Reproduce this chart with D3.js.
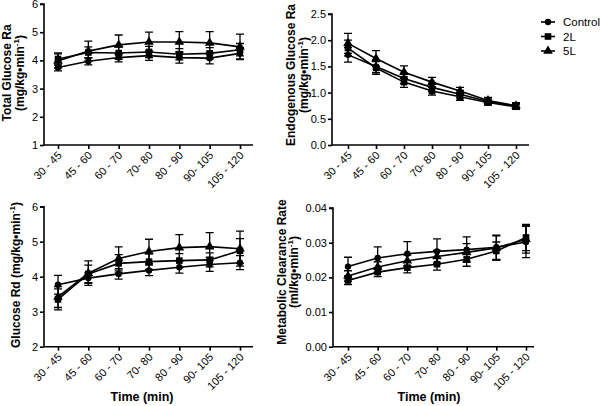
<!DOCTYPE html>
<html><head><meta charset="utf-8">
<script src="https://cdn.jsdelivr.net/npm/d3@7"></script>
<style>body{margin:0;background:#fff}svg{display:block}text{font-family:"Liberation Sans",Arial,sans-serif}</style>
</head><body><svg id="c" width="600" height="406"></svg>
<script>
const categories = ["30 - 45","45 - 60","60 - 70","70- 80","80 - 90","90- 105","105 - 120"];
const seriesNames = ["Control","2L","5L"];
// Total Glucose Ra
const raControl = [3.75,3.97,4.10,4.17,4.10,4.08,4.25];
const ra2L      = [4.05,4.28,4.26,4.30,4.22,4.25,4.38];
const ra5L      = [3.98,4.33,4.55,4.65,4.65,4.62,4.48];
const raErrControl = [0.12,0.13,0.15,0.17,0.2,0.2,0.2];
const raErr2L      = [0.22,0.2,0.22,0.2,0.2,0.2,0.22];
const raErr5L      = [0.25,0.35,0.35,0.35,0.37,0.4,0.45];
// Endogenous Glucose Ra
const egControl = [1.72,1.50,1.27,1.10,0.97,0.83,0.74];
const eg2L      = [1.85,1.47,1.20,1.03,0.92,0.81,0.73];
const eg5L      = [1.94,1.65,1.39,1.20,1.03,0.85,0.75];
const egErrControl = [0.14,0.12,0.1,0.08,0.07,0.05,0.05];
const egErr2L      = [0.15,0.12,0.1,0.08,0.07,0.05,0.05];
const egErr5L      = [0.19,0.15,0.12,0.09,0.07,0.06,0.06];
// Glucose Rd
const rdControl = [3.77,3.96,4.08,4.18,4.27,4.35,4.40];
const rd2L      = [3.35,4.08,4.38,4.43,4.46,4.48,4.74];
const rd5L      = [3.42,4.10,4.52,4.72,4.83,4.86,4.80];
const rdErrControl = [0.27,0.15,0.15,0.15,0.17,0.2,0.2];
const rdErr2L      = [0.3,0.25,0.25,0.22,0.2,0.2,0.35];
const rdErr5L      = [0.3,0.35,0.33,0.35,0.37,0.4,0.5];
// Metabolic Clearance Rate
const mcControl = [0.0231,0.0256,0.0268,0.0275,0.0280,0.0287,0.0302];
const mc2L      = [0.0191,0.0215,0.0228,0.0238,0.0252,0.0276,0.0315];
const mc5L      = [0.0204,0.0230,0.0248,0.0260,0.0272,0.0285,0.0310];
const mcErrControl = [0.0027,0.0032,0.0035,0.0036,0.0037,0.0035,0.0045];
const mcErr2L      = [0.0012,0.0013,0.0015,0.0017,0.0020,0.0026,0.0038];
const mcErr5L      = [0.0015,0.0015,0.0016,0.0018,0.0025,0.0035,0.0040];

const svg = d3.select("#c");

function marker(g, type, x, y){
  if(type==="circle") g.append("circle").attr("cx",x).attr("cy",y).attr("r",3.2).attr("fill","#000");
  else if(type==="square") g.append("rect").attr("x",x-3.3).attr("y",y-3.3).attr("width",6.6).attr("height",6.6).attr("fill","#000");
  else g.append("path").attr("d",d3.symbol(d3.symbolTriangle,40)()).attr("transform",`translate(${x},${y})`).attr("fill","#000");
}
const types = ["circle","square","triangle"];

function panel(cfg){
  const g = svg.append("g");
  const x = d3.scalePoint().domain(categories).range([cfg.x0, cfg.x1]);
  const y = d3.scaleLinear().domain(cfg.yDom).range([cfg.yBot, cfg.yTop]);
  const ya = g.append("g").attr("transform",`translate(${cfg.ax},0)`)
    .call(d3.axisLeft(y).tickValues(cfg.ticks).tickFormat(cfg.fmt).tickSize(4).tickPadding(2));
  ya.select(".domain").attr("d",`M-4,${cfg.yTop}H0V${cfg.yBot}`);
  const xa = g.append("g").attr("transform",`translate(0,${cfg.yBot})`)
    .call(d3.axisBottom(x).tickSize(4).tickPadding(2));
  xa.select(".domain").attr("d",`M${cfg.ax},0H${cfg.axEnd}`);
  [ya,xa].forEach(a=>{a.selectAll("path,line").attr("stroke","#000").attr("stroke-width",1.6);
    a.selectAll("text").attr("font-size",11).attr("fill","#000").attr("font-family","Liberation Sans, Arial, sans-serif");});
  xa.selectAll("text").attr("text-anchor","end").attr("dy",null).attr("x",0).attr("y",0)
    .attr("transform","translate(4,11) rotate(-45)");
  cfg.series.forEach((vals,si)=>{
    const errs = cfg.errs[si];
    const line = d3.line().x((d,i)=>x(categories[i])).y(d=>y(d));
    g.append("path").attr("d",line(vals)).attr("fill","none").attr("stroke","#000").attr("stroke-width",1.6);
    vals.forEach((v,i)=>{
      const cx = x(categories[i]);
      const hi = y(v+errs[i]), lo = y(v-errs[i]);
      g.append("path").attr("d",`M${cx},${hi}V${lo}M${cx-4},${hi}H${cx+4}M${cx-4},${lo}H${cx+4}`)
        .attr("stroke","#000").attr("stroke-width",1.3).attr("fill","none");
    });
  });
  cfg.series.forEach((vals,si)=>{
    vals.forEach((v,i)=>marker(g,types[si],x(categories[i]),y(v)));
  });
  const t = g.append("text").attr("transform",`translate(${cfg.tx},${cfg.ty}) rotate(-90)`)
    .attr("text-anchor","middle").attr("font-size",12).attr("font-weight","bold").attr("fill","#000");
  cfg.title(t);
  if(cfg.xTitle){
    g.append("text").attr("x",cfg.xTitleX).attr("y",401).attr("text-anchor","middle")
      .attr("font-size",12.5).attr("font-weight","bold").text("Time (min)");
  }
}
function unitLines(t, l1, unit, gap){
  t.append("tspan").attr("x",0).attr("y",0).text(l1);
  t.append("tspan").attr("x",0).attr("y",gap).text("(" + unit + "•min");
  t.append("tspan").attr("font-size",8).attr("dy",-5).text("-1");
  t.append("tspan").attr("dy",5).text(")");
}

panel({x0:58,x1:240,ax:44,axEnd:253,yDom:[1,6],yBot:145,yTop:4,ticks:[1,2,3,4,5,6],fmt:d3.format("d"),
  series:[raControl,ra2L,ra5L],errs:[raErrControl,raErr2L,raErr5L],tx:11,ty:73,
  title:t=>unitLines(t,"Total Glucose Ra","mg/kg",13)});
panel({x0:348,x1:516,ax:332,axEnd:529,yDom:[0,2.5],yBot:145,yTop:14,ticks:[0,0.5,1,1.5,2,2.5],fmt:d3.format(".1f"),
  series:[egControl,eg2L,eg5L],errs:[egErrControl,egErr2L,egErr5L],tx:295,ty:75,
  title:t=>unitLines(t,"Endogenous Glucose Ra","mg/kg",13)});
panel({x0:58,x1:240,ax:44,axEnd:253,yDom:[2,6],yBot:346.7,yTop:206.7,ticks:[2,3,4,5,6],fmt:d3.format("d"),
  series:[rdControl,rd2L,rd5L],errs:[rdErrControl,rdErr2L,rdErr5L],tx:20,ty:275,xTitle:true,xTitleX:142,
  title:t=>{t.append("tspan").text("Glucose Rd (mg/kg•min");t.append("tspan").attr("font-size",8).attr("dy",-5).text("-1");t.append("tspan").attr("dy",5).text(")");}});
panel({x0:348,x1:526,ax:333,axEnd:534,yDom:[0,0.04],yBot:346.7,yTop:208,ticks:[0,0.01,0.02,0.03,0.04],fmt:d3.format(".2f"),
  series:[mcControl,mc2L,mc5L],errs:[mcErrControl,mcErr2L,mcErr5L],tx:286,ty:272,xTitle:true,xTitleX:429,
  title:t=>unitLines(t,"Metabolic Clearance Rate","ml/kg",12)});

const lg = svg.append("g");
seriesNames.forEach((n,i)=>{
  const yy = 22 + i*14.5;
  lg.append("line").attr("x1",541).attr("x2",555).attr("y1",yy).attr("y2",yy).attr("stroke","#000").attr("stroke-width",1.6);
  marker(lg,types[i],548,yy);
  lg.append("text").attr("x",563).attr("y",yy+4).attr("font-size",11.5).text(n);
});
</script></body></html>
